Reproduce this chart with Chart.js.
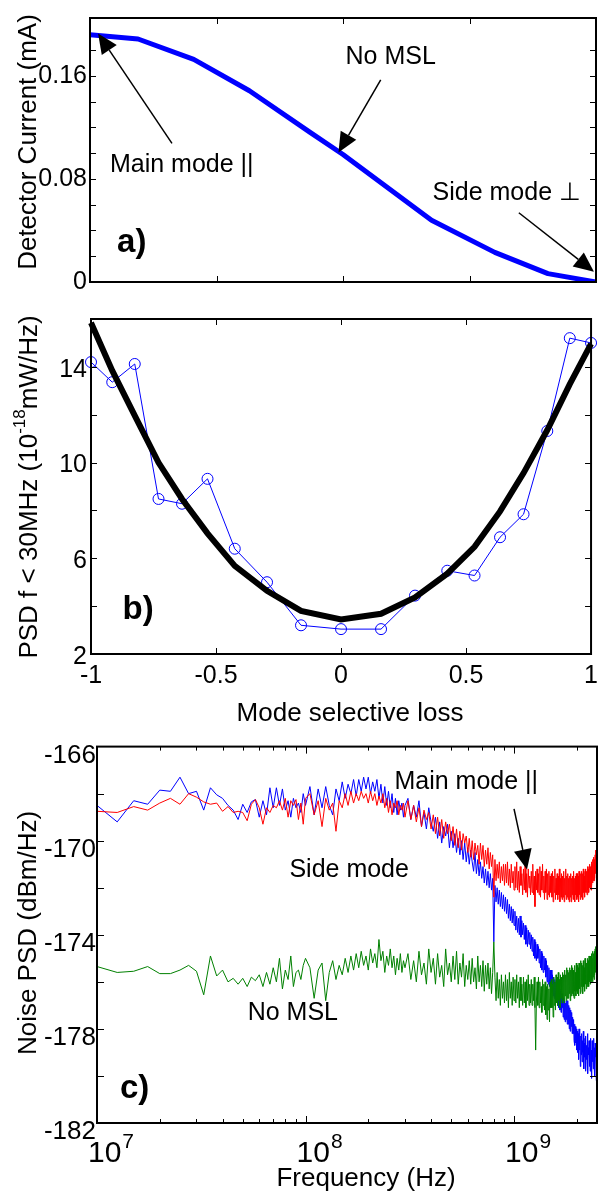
<!DOCTYPE html>
<html><head><meta charset="utf-8">
<script src="https://cdn.jsdelivr.net/npm/chart.js@4.4.1/dist/chart.umd.min.js"></script>
<style>
html,body{margin:0;padding:0;background:#fff;width:605px;height:1198px;overflow:hidden}
.box{position:absolute;left:0;width:605px}
</style></head><body>
<div class="box" style="top:0;height:300px"><canvas id="ca"></canvas></div>
<div class="box" style="top:300px;height:430px"><canvas id="cb"></canvas></div>
<div class="box" style="top:730px;height:468px"><canvas id="cc"></canvas></div>
<script>
// ---------------- DATA ----------------
// a) detector current vs mode selective loss
const lossA = [-1, -0.81, -0.59, -0.37, -0.13, 0, 0.35, 0.6, 0.81, 1];
const currentA = [0.192, 0.1887, 0.1729, 0.1485, 0.1162, 0.099, 0.048, 0.023, 0.0065, 0.0];
const ticksLabelA = [0, 0.08, 0.16];

// b) PSD f < 30 MHz vs mode selective loss
const lossB = [-1, -0.915, -0.825, -0.73, -0.636, -0.534, -0.425, -0.296, -0.16, 0, 0.16, 0.296, 0.425, 0.534, 0.636, 0.73, 0.825, 0.915, 1];
const psdMeasured = [14.2, 13.36, 14.12, 8.48, 8.28, 9.32, 6.4, 5.0, 3.2, 3.04, 3.04, 4.44, 5.48, 5.28, 6.88, 7.84, 11.32, 15.2, 15.0];
const psdModel = [15.84, 13.84, 11.96, 10.0, 8.48, 7.04, 5.68, 4.64, 3.8, 3.44, 3.68, 4.36, 5.36, 6.48, 7.96, 9.56, 11.36, 13.28, 14.96];
const ticksLabelBx = [-1, -0.5, 0, 0.5, 1];
const ticksLabelBy = [2, 6, 10, 14];

// c) noise PSD spectra; analyser sweep segments [startMHz, endMHz, stepMHz]
const freqSegmentsMHz = [[10, 100, 2.5], [105, 300, 5], [310, 2500, 10]];
const ticksLabelCy = [-182, -178, -174, -170, -166];
const ticksLabelCx = [7, 8, 9]; // decades (10^n Hz)

// blue trace (side mode)
const psdSideMode = [
-168.5,-169.2,-168.3,-168.45,-167.85,-167.9,-167.3,-168.0,-167.9,-168.7,
-167.75,-168.05,-168.2,-168.5,-168.7,-169.1,-168.45,-168.8,-168.35,-168.25,
-169.0,-168.3,-168.9,-167.75,-168.6,-167.75,-168.5,-167.8,-168.7,-168.3,
-169.0,-168.2,-168.6,-168.4,-168.8,-168.0,-168.5,
-167.7,-168.9,-167.8,-168.6,-167.7,-168.5,-168.9,-167.8,-168.3,-167.5,
-168.2,-167.6,-168.0,-167.4,-168.1,-167.4,-167.9,-167.3,-167.8,-167.3,
-168.0,-167.5,-167.9,-167.4,-168.2,-167.6,-168.4,-167.7,-168.5,-167.9,
-168.6,-168.0,-168.8,-168.2,-168.9,-168.3,-168.7,-168.4,-169.0,-168.5,
-168.2,-169.1,-168.5,-169.0,-168.3,-169.4,-168.8,-169.5,-168.6,-169.2,
-169.6,-169.0,-169.9,-169.2,-170.1,-169.4,-169.8,-169.3,-170.3,-169.6,
-170.3,-169.7,-170.5,-169.9,-170.6,-170.0,-170.8,-170.1,-170.9,-170.3,
-171.0,-170.4,-170.9,-171.3,-170.5,-171.4,-170.8,-171.5,-170.9,-171.6,
-171.1,-171.8,-171.2,-171.9,-171.3,-172.0,-171.4,-172.1,-171.6,-174.3,
-171.9,-172.6,-172.0,-172.7,-172.1,-172.8,-172.2,-172.9,-172.3,-173.0,
-172.4,-173.1,-172.5,-173.3,-172.7,-173.4,-172.8,-173.5,-172.9,-173.6,
-173.0,-173.8,-173.2,-173.9,-173.3,-174.0,-173.2,-174.1,-173.4,-174.0,
-173.5,-174.2,-173.6,-174.4,-173.7,-174.5,-173.8,-174.4,-173.9,-174.6,
-174.0,-174.7,-174.1,-174.9,-174.2,-175.0,-174.3,-175.1,-174.4,-175.0,
-174.5,-175.2,-174.6,-175.4,-174.7,-175.5,-174.8,-175.6,-174.9,-175.5,
-175.0,-175.8,-175.1,-176.0,-175.3,-176.1,-175.4,-176.2,-175.5,-176.1,
-175.5,-176.4,-175.7,-176.6,-175.8,-176.7,-175.9,-176.8,-176.0,-176.6,
-176.0,-177.0,-176.2,-177.1,-176.3,-177.2,-176.4,-177.3,-176.5,-177.1,
-176.5,-177.5,-176.7,-177.6,-176.8,-177.7,-176.9,-177.6,-176.8,-177.8,
-176.8,-177.8,-177.0,-178.0,-177.1,-178.1,-177.2,-177.9,-177.3,-178.2,
-177.5,-178.2,-177.6,-178.5,-177.8,-178.7,-177.9,-178.6,-178.0,-178.9,
-178.1,-179.0,-178.2,-179.3,-178.0,-178.9,-178.4,-179.6,-178.3,-179.1,
-178.2,-179.4,-178.5,-179.0,-178.1,-179.7,-178.6,-179.2,-178.4,-179.8,
-178.3,-179.3,-178.7,-179.5,-178.2,-179.9,-178.8,-179.1,-178.5,-179.6,
-178.6,-179.8,-178.4,-179.3,-178.9,-180.1,-178.5,-179.4,-178.7,-179.7,
-178.4,-179.5,-178.8,-180.0,-178.6,-179.2,-178.9,-180.2,-178.7,-179.0
];
// red trace (main mode ||)
const psdMainMode = [
-168.75,-168.8,-168.55,-168.7,-168.4,-168.2,-168.45,-168.0,-168.15,-168.35,
-168.45,-168.4,-168.75,-168.55,-168.8,-168.75,-168.8,-169.15,-168.45,-168.25,
-168.6,-169.3,-168.6,-168.8,-168.5,-168.6,-168.3,-168.7,-168.2,-169.0,
-168.3,-168.5,-168.25,-169.1,-168.4,-169.3,-168.2,
-168.0,-168.9,-168.3,-169.4,-168.2,-168.7,-168.4,-169.6,-168.3,-168.6,
-168.0,-168.5,-167.9,-168.4,-168.0,-168.3,-167.9,-168.2,-168.0,-168.4,
-167.9,-168.3,-168.0,-168.5,-168.1,-168.4,-168.0,-168.6,-168.2,-168.8,
-168.3,-168.9,-168.4,-168.6,-168.3,-168.9,-168.5,-168.7,-168.4,-169.0,
-168.3,-169.1,-168.5,-169.2,-168.6,-169.4,-168.7,-169.1,-168.8,-169.5,
-168.9,-169.7,-169.0,-169.8,-169.1,-169.9,-169.2,-169.7,-169.3,-170.0,
-169.4,-170.2,-169.5,-170.3,-169.6,-170.4,-169.7,-170.1,-169.8,-170.5,
-169.9,-170.7,-170.0,-170.8,-170.1,-170.6,-170.2,-171.0,-170.1,-170.8,
-170.2,-171.1,-170.4,-171.0,-170.3,-171.2,-170.5,-171.1,-170.6,-172.4,
-170.8,-171.7,-171.0,-171.6,-170.9,-171.8,-171.1,-171.7,-171.0,-171.9,
-171.0,-171.8,-170.9,-171.9,-171.2,-172.0,-171.0,-171.8,-171.3,-172.1,
-171.1,-172.0,-170.9,-172.1,-171.3,-172.2,-171.1,-171.9,-171.4,-172.3,
-171.2,-172.1,-171.0,-172.2,-171.4,-172.4,-171.2,-172.0,-171.5,-172.3,
-171.3,-172.2,-171.0,-172.3,-171.5,-172.8,-171.3,-172.1,-171.2,-172.2,
-171.4,-172.3,-171.1,-172.4,-171.3,-172.1,-171.0,-172.2,-171.5,-172.5,
-171.3,-172.2,-171.2,-172.5,-171.4,-172.3,-171.3,-172.4,-171.5,-172.2,
-171.4,-172.4,-171.3,-172.6,-171.5,-172.2,-171.2,-172.5,-171.6,-172.3,
-171.4,-172.5,-171.5,-172.3,-171.2,-172.6,-171.6,-172.4,-171.4,-172.5,
-171.5,-172.4,-171.3,-172.6,-171.6,-172.3,-171.2,-172.5,-171.5,-172.4,
-171.4,-172.5,-171.6,-172.6,-171.5,-172.4,-171.4,-172.6,-171.6,-172.3,
-171.5,-172.5,-171.3,-172.4,-171.6,-172.6,-171.5,-172.3,-171.4,-172.5,
-171.4,-172.4,-171.5,-172.6,-171.3,-172.3,-171.6,-172.5,-171.4,-172.4,
-171.3,-172.3,-171.4,-172.5,-171.2,-172.2,-171.5,-172.4,-171.3,-172.2,
-171.2,-172.2,-171.3,-172.3,-171.1,-172.1,-171.2,-172.2,-171.1,-172.0,
-171.0,-172.0,-171.1,-172.1,-170.9,-171.9,-171.0,-171.8,-170.8,-171.7,
-170.7,-171.7,-170.8,-171.6,-170.6,-171.4,-170.4,-171.2,-170.3,-169.9
];
// green trace (no MSL)
const psdNoMSL = [
-175.35,-175.6,-175.55,-175.35,-175.65,-175.65,-175.5,-175.3,-175.55,-176.55,
-174.9,-175.75,-175.5,-176.0,-175.85,-176.1,-175.85,-176.2,-175.8,-175.95,
-175.7,-176.2,-175.6,-176.1,-175.4,-176.0,-175.0,-176.3,-175.5,-175.9,
-174.9,-176.2,-175.6,-175.5,-175.9,-175.3,-175.0,
-175.4,-176.7,-175.5,-175.2,-176.8,-175.6,-175.1,-175.9,-175.3,-175.7,
-175.0,-175.6,-174.9,-175.5,-174.8,-175.4,-174.7,-175.3,-174.9,-175.5,
-174.6,-175.2,-174.8,-175.4,-174.2,-175.1,-174.7,-175.6,-174.9,-175.3,
-174.6,-175.4,-174.9,-175.7,-175.0,-175.5,-174.8,-175.6,-175.1,-175.4,
-174.8,-175.9,-175.1,-176.0,-174.7,-175.7,-175.2,-176.1,-174.6,-175.6,
-175.0,-176.1,-174.8,-175.8,-175.3,-176.2,-174.6,-175.7,-175.2,-176.0,
-174.9,-175.9,-174.7,-176.1,-175.2,-175.8,-174.8,-176.2,-175.3,-175.9,
-175.1,-176.1,-175.0,-176.0,-175.4,-176.3,-174.9,-176.0,-175.3,-176.2,
-175.1,-176.4,-175.3,-176.1,-175.2,-176.3,-175.4,-176.5,-175.6,-174.3,
-175.8,-176.8,-175.6,-176.7,-175.9,-177.0,-175.7,-176.7,-176.0,-176.9,
-175.7,-176.8,-175.9,-177.1,-175.6,-176.7,-176.0,-177.0,-175.8,-176.8,
-175.9,-176.9,-175.7,-176.7,-176.0,-177.1,-175.8,-176.8,-176.1,-177.0,
-175.8,-176.9,-176.0,-177.1,-175.9,-176.8,-175.7,-177.0,-176.1,-176.9,
-175.9,-177.0,-176.1,-176.8,-175.8,-177.1,-178.9,-176.9,-176.0,-177.0,
-175.8,-177.1,-176.0,-176.9,-176.2,-177.3,-175.9,-177.0,-176.1,-177.2,
-176.0,-177.4,-176.2,-177.6,-176.1,-177.2,-176.3,-177.7,-176.0,-177.1,
-175.9,-177.1,-176.1,-177.5,-175.8,-177.0,-176.0,-177.2,-175.7,-176.9,
-175.8,-177.0,-175.6,-176.8,-175.9,-177.1,-175.7,-176.7,-175.8,-176.9,
-175.6,-176.8,-175.7,-176.9,-175.5,-176.6,-175.7,-176.8,-175.4,-176.7,
-175.5,-176.7,-175.6,-176.5,-175.4,-176.8,-175.5,-176.6,-175.3,-176.5,
-175.4,-176.6,-175.5,-176.7,-175.3,-176.4,-175.6,-176.6,-175.2,-176.4,
-175.3,-176.5,-175.4,-176.6,-175.2,-176.3,-175.5,-176.5,-175.1,-176.2,
-175.2,-176.4,-175.3,-176.5,-175.1,-176.2,-175.4,-176.4,-175.0,-176.1,
-175.1,-176.3,-175.2,-176.2,-175.0,-176.1,-175.1,-176.2,-174.9,-176.0,
-175.0,-176.1,-174.9,-176.0,-174.8,-175.9,-175.0,-176.0,-174.7,-175.8,
-174.8,-175.9,-174.7,-175.7,-174.6,-175.6,-174.5,-175.4,-174.4,-174.3
];

// ---------------- helpers ----------------
const FONT = '"Liberation Sans", Arial, Helvetica, sans-serif';
const freqHz = [];
freqSegmentsMHz.forEach(([a, b, s]) => { for (let k = 0; a + k * s <= b + 1e-9; k++) freqHz.push((a + k * s) * 1e6); });
const pts = (xs, ys) => xs.map((x, i) => ({x, y: ys[i]}));
const near = (list, v) => list.find(t => Math.abs(t - v) < 1e-9);

const frameTicks = {
  id: 'frameTicks',
  afterDatasetsDraw(chart, args, o) {
    const {ctx, chartArea: a, scales} = chart;
    ctx.save();
    ctx.strokeStyle = '#000'; ctx.lineWidth = 1;
    const seg = (x1, y1, x2, y2) => { ctx.beginPath(); ctx.moveTo(x1, y1); ctx.lineTo(x2, y2); ctx.stroke(); };
    const xs = scales.x, ys = scales.y;
    xs.ticks.forEach(t => {
      const v = t.value;
      if (xs.type === 'logarithmic') { const m = v / Math.pow(10, Math.floor(Math.log10(v) + 1e-9)); if (Math.abs(m - 1.5) < 1e-6) return; }
      const px = Math.round(xs.getPixelForValue(v)) + 0.5;
      if (px < a.left + 2 || px > a.right - 2) return;
      let len = o.len;
      if (xs.type === 'logarithmic') { const e = Math.log10(v); len = Math.abs(e - Math.round(e)) < 1e-6 ? o.len : o.minorLen; }
      seg(px, a.bottom, px, a.bottom - len); seg(px, a.top, px, a.top + len);
    });
    ys.ticks.forEach(t => {
      const py = Math.round(ys.getPixelForValue(t.value)) + 0.5;
      if (py < a.top + 2 || py > a.bottom - 2) return;
      seg(a.left, py, a.left + o.len, py); seg(a.right, py, a.right - o.len, py);
    });
    ctx.lineWidth = 2;
    ctx.strokeRect(a.left, a.top, a.right - a.left, a.bottom - a.top);
    ctx.restore();
  }
};

const notes = {
  id: 'notes',
  afterDraw(chart, args, o) {
    const {ctx, scales} = chart;
    const X = v => scales.x.getPixelForValue(v), Y = v => scales.y.getPixelForValue(v);
    ctx.save();
    ctx.fillStyle = '#000'; ctx.strokeStyle = '#000';
    (o.items || []).forEach(it => {
      if (it.text !== undefined) {
        ctx.font = (it.bold ? 'bold ' : '') + it.size + 'px ' + FONT;
        ctx.textAlign = 'left'; ctx.textBaseline = 'middle';
        ctx.fillText(it.text, X(it.x), Y(it.y));
      } else {
        const x1 = X(it.x1), y1 = Y(it.y1), x2 = X(it.x2), y2 = Y(it.y2);
        const ang = Math.atan2(y2 - y1, x2 - x1), L = 20, W = 9;
        const bx = x2 - L * Math.cos(ang), by = y2 - L * Math.sin(ang);
        ctx.lineWidth = 1.5;
        ctx.beginPath(); ctx.moveTo(x1, y1); ctx.lineTo(bx, by); ctx.stroke();
        ctx.beginPath(); ctx.moveTo(x2, y2);
        ctx.lineTo(bx + W * Math.sin(ang), by - W * Math.cos(ang));
        ctx.lineTo(bx - W * Math.sin(ang), by + W * Math.cos(ang));
        ctx.closePath(); ctx.fill();
      }
    });
    const drawParts = (parts, cx, cy, rot) => {
      ctx.save(); ctx.translate(cx, cy); if (rot) ctx.rotate(-Math.PI / 2);
      let total = 0;
      parts.forEach(p => { ctx.font = p.size + 'px ' + FONT; p.w = ctx.measureText(p.t).width; total += p.w; });
      let x = -total / 2;
      ctx.textAlign = 'left'; ctx.textBaseline = 'alphabetic';
      parts.forEach(p => { ctx.font = p.size + 'px ' + FONT; ctx.fillText(p.t, x, p.dy); x += p.w; });
      ctx.restore();
    };
    if (o.yTitle) drawParts(o.yTitle, o.yTitleX, o.yTitleY, true);
    if (o.xTitle) drawParts(o.xTitle, o.xTitleX, o.xTitleY, false);
    if (o.decadeLabels) {
      const a = chart.chartArea;
      o.decadeLabels.forEach(n => {
        const px = scales.x.getPixelForValue(Math.pow(10, n));
        ctx.textAlign = 'left'; ctx.textBaseline = 'alphabetic';
        ctx.font = '30px ' + FONT; ctx.fillText('10', px - 9, a.bottom + 39);
        const w = ctx.measureText('10').width;
        ctx.font = '21px ' + FONT; ctx.fillText(String(n), px - 9 + w + 1, a.bottom + 25);
      });
    }
    ctx.restore();
  }
};
Chart.register(frameTicks, notes);

const common = {
  responsive: true, maintainAspectRatio: false, animation: false, devicePixelRatio: 1,
  events: []
};
const tickFont = {family: FONT, size: 25};

// ---------------- panel a ----------------
new Chart(document.getElementById('ca'), {
  type: 'scatter',
  data: {datasets: [{data: pts(lossA, currentA), showLine: true, borderColor: '#0000ff', borderWidth: 5, pointRadius: 0, tension: 0, borderJoinStyle: 'round'}]},
  options: Object.assign({}, common, {
    layout: {padding: {top: 7, right: 9, left: 0, bottom: 0}},
    plugins: {
      legend: {display: false}, tooltip: {enabled: false},
      frameTicks: {len: 6, minorLen: 4},
      notes: {
        items: [
          {text: 'Main mode ||', x: -0.921, y: 0.091, size: 25},
          {x1: -0.676, y1: 0.1076, x2: -0.968, y2: 0.193},
          {text: 'No MSL', x: 0.01, y: 0.175, size: 25},
          {x1: 0.149, y1: 0.157, x2: -0.018, y2: 0.1005},
          {text: 'Side mode \u22A5', x: 0.354, y: 0.0689, size: 25},
          {x1: 0.695, y1: 0.0538, x2: 0.992, y2: 0.0079},
          {text: 'a)', x: -0.893, y: 0.0301, size: 33, bold: true}
        ],
        yTitle: [{t: 'Detector Current (mA)', size: 26, dy: 9}], yTitleX: 27, yTitleY: 142
      }
    },
    scales: {
      x: {type: 'linear', min: -1, max: 1, ticks: {display: false, stepSize: 0.5}, grid: {display: false}, border: {display: false}, afterFit: s => { s.height = 8; }},
      y: {type: 'linear', min: 0, max: 0.205,
          ticks: {stepSize: 0.02, autoSkip: false, padding: 3, color: '#000', font: tickFont,
                  callback: v => { const l = near(ticksLabelA, v); return l === undefined ? '' : String(l); }},
          grid: {display: false, drawTicks: false}, border: {display: false}, afterFit: s => { s.width = 90; }}
    }
  })
});

// ---------------- panel b ----------------
new Chart(document.getElementById('cb'), {
  type: 'scatter',
  data: {datasets: [
    {data: pts(lossB, psdModel), showLine: true, borderColor: '#000000', borderWidth: 6, pointRadius: 0, tension: 0, clip: false},
    {data: pts(lossB, psdMeasured), showLine: true, borderColor: '#0000ff', borderWidth: 1, pointRadius: 5.5, pointStyle: 'circle',
     pointBorderColor: '#0000ff', pointBackgroundColor: 'rgba(0,0,0,0)', pointBorderWidth: 1, tension: 0, clip: false}
  ]},
  options: Object.assign({}, common, {
    layout: {padding: {top: 4, right: 8, left: 0, bottom: 0}},
    plugins: {
      legend: {display: false}, tooltip: {enabled: false},
      frameTicks: {len: 6, minorLen: 4},
      notes: {
        items: [{text: 'b)', x: -0.874, y: 3.84, size: 33, bold: true}],
        yTitle: [{t: 'PSD f < 30MHz (10', size: 26, dy: 9}, {t: '-18', size: 17, dy: -3}, {t: 'mW/Hz)', size: 26, dy: 9}],
        yTitleX: 28, yTitleY: 187,
        xTitle: [{t: 'Mode selective loss', size: 26, dy: 9}], xTitleX: 350, xTitleY: 412
      }
    },
    scales: {
      x: {type: 'linear', min: -1, max: 1,
          ticks: {stepSize: 0.5, autoSkip: false, maxRotation: 0, padding: 7, color: '#000', font: tickFont,
                  callback: v => { const l = near(ticksLabelBx, v); return l === undefined ? '' : String(l); }},
          grid: {display: false, drawTicks: false}, border: {display: false}, afterFit: s => { s.height = 76; }},
      y: {type: 'linear', min: 2, max: 16,
          ticks: {stepSize: 2, autoSkip: false, padding: 4, labelOffset: 3, color: '#000', font: tickFont,
                  callback: v => { const l = near(ticksLabelBy, v); return l === undefined ? '' : String(l); }},
          grid: {display: false, drawTicks: false}, border: {display: false}, afterFit: s => { s.width = 91; }}
    }
  })
});

// ---------------- panel c ----------------
new Chart(document.getElementById('cc'), {
  type: 'line',
  data: {datasets: [
    {data: pts(freqHz, psdNoMSL), borderColor: '#008000', borderWidth: 1, pointRadius: 0, tension: 0},
    {data: pts(freqHz, psdMainMode), borderColor: '#ff0000', borderWidth: 1, pointRadius: 0, tension: 0},
    {data: pts(freqHz, psdSideMode), borderColor: '#0000ff', borderWidth: 1, pointRadius: 0, tension: 0}
  ]},
  options: Object.assign({}, common, {
    layout: {padding: {top: 13, right: 8, left: 0, bottom: 0}},
    plugins: {
      legend: {display: false}, tooltip: {enabled: false},
      frameTicks: {len: 7, minorLen: 4},
      notes: {
        items: [
          {text: 'Main mode ||', x: 2.67e8, y: -167.52, size: 25},
          {x1: 1.0e9, y1: -168.65, x2: 1.154e9, y2: -171.22},
          {text: 'Side mode', x: 8.37e7, y: -171.26, size: 25},
          {text: 'No MSL', x: 5.28e7, y: -177.33, size: 25},
          {text: 'c)', x: 1.288e7, y: -180.57, size: 33, bold: true}
        ],
        yTitle: [{t: 'Noise PSD (dBm/Hz)', size: 26, dy: 9}], yTitleX: 27, yTitleY: 203,
        xTitle: [{t: 'Frequency (Hz)', size: 26, dy: 9}], xTitleX: 366, xTitleY: 447,
        decadeLabels: ticksLabelCx
      }
    },
    scales: {
      x: {type: 'logarithmic', min: 1e7, max: 2.5e9,
          ticks: {display: true, autoSkip: false, maxRotation: 0, callback: () => ''},
          grid: {display: false, drawTicks: false}, border: {display: false}, afterFit: s => { s.height = 75; }},
      y: {type: 'linear', min: -182, max: -166,
          ticks: {stepSize: 2, autoSkip: false, padding: 1, labelOffset: 9, color: '#000', font: {family: FONT, size: 26},
                  callback: v => { const l = near(ticksLabelCy, v); return l === undefined ? '' : String(l); }},
          grid: {display: false, drawTicks: false}, border: {display: false}, afterFit: s => { s.width = 97; }}
    }
  })
});
</script>
</body></html>
